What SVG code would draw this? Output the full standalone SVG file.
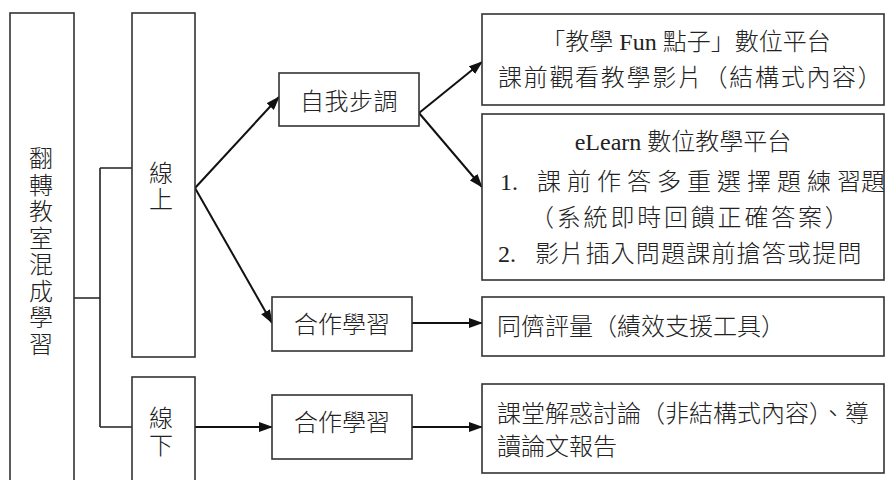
<svg xmlns="http://www.w3.org/2000/svg" width="886" height="480" viewBox="0 0 886 480">
<style>
.box{fill:#fff;stroke:#333;stroke-width:1.6}
.ln{fill:none;stroke:#222;stroke-width:1.6}
.ar{fill:none;stroke:#111;stroke-width:2}
text{font-family:"Liberation Serif","Noto Sans CJK TC",serif;font-size:24px;fill:#222;font-weight:300}
.c{text-anchor:middle}
</style>
<defs>
<marker id="ah" viewBox="0 0 14 10" markerWidth="14" markerHeight="10" refX="13" refY="5" orient="auto" markerUnits="userSpaceOnUse">
<path d="M0,0 L14,5 L0,10 z" fill="#111"/>
</marker>
</defs>
<rect width="886" height="480" fill="#fff"/>
<g id="connectors">
<path class="ln" d="M74,298 H100 M100,168 V427 M100,168 H132 M100,427 H132"/>
<line class="ar" x1="195" y1="188" x2="279" y2="97" marker-end="url(#ah)"/>
<line class="ar" x1="195" y1="188" x2="272" y2="323" marker-end="url(#ah)"/>
<line class="ar" x1="195" y1="427" x2="272" y2="427" marker-end="url(#ah)"/>
<line class="ar" x1="419" y1="113" x2="482" y2="62" marker-end="url(#ah)"/>
<line class="ar" x1="419" y1="113" x2="482" y2="187" marker-end="url(#ah)"/>
<line class="ar" x1="412" y1="323" x2="482" y2="323" marker-end="url(#ah)"/>
<line class="ar" x1="412" y1="427" x2="482" y2="427" marker-end="url(#ah)"/>
</g>
<g id="root">
<rect class="box" x="10" y="13" width="64" height="480"/>
<text class="c"><tspan x="41" y="167">翻</tspan><tspan x="41" y="194">轉</tspan><tspan x="41" y="220">教</tspan><tspan x="41" y="247">室</tspan><tspan x="41" y="273">混</tspan><tspan x="41" y="300">成</tspan><tspan x="41" y="326">學</tspan><tspan x="41" y="353">習</tspan></text>
</g>
<g id="online">
<rect class="box" x="132" y="13" width="63" height="344"/>
<text class="c"><tspan x="161" y="182">線</tspan><tspan x="161" y="208">上</tspan></text>
</g>
<g id="offline">
<rect class="box" x="132" y="377" width="63" height="120"/>
<text class="c"><tspan x="161" y="427">線</tspan><tspan x="161" y="454">下</tspan></text>
</g>
<g id="selfpaced">
<rect class="box" x="279" y="73" width="140" height="53"/>
<text class="c" x="349" y="110" letter-spacing="0.5">自我步調</text>
</g>
<g id="coop1">
<rect class="box" x="272" y="297" width="140" height="54"/>
<text class="c" x="342" y="333">合作學習</text>
</g>
<g id="coop2">
<rect class="box" x="272" y="395" width="140" height="64"/>
<text class="c" x="342" y="431">合作學習</text>
</g>
<g id="funplatform">
<rect class="box" x="482" y="14" width="402" height="91"/>
<text class="c" x="686" y="50">「教學 Fun 點子」數位平台</text>
<text x="498 523.7 549.4 575.1 600.8 626.5 652.2 677.9 703.6 729.3 755 780.7 806.4 832.1 857.8" y="86">課前觀看教學影片（結構式內容）</text>
</g>
<g id="elearn">
<rect class="box" x="482" y="114" width="402" height="166"/>
<text class="c" x="683" y="150">eLearn 數位教學平台</text>
<text x="500" y="190">1.</text>
<text x="537 567 597 627 657 687 717 747 777 807 837" y="190">課前作答多重選擇題練習題</text>
<text x="530 556.8 583.6 610.4 637.2 664 690.8 717.6 744.4 771.2 798 824.8" y="226">（系統即時回饋正確答案）</text>
<text x="498" y="262">2.</text>
<text x="535 560.2 585.4 610.6 635.8 661 686.2 711.4 736.6 761.8 787 812.2 837.4" y="262">影片插入問題課前搶答或提問</text>
</g>
<g id="peer">
<rect class="box" x="482" y="297" width="402" height="59"/>
<text x="497" y="335">同儕評量（績效支援工具）</text>
</g>
<g id="discuss">
<rect class="box" x="482" y="384" width="402" height="89"/>
<text x="497" y="422">課堂解惑討論（非結構式內容）、導</text>
<text x="497" y="455">讀論文報告</text>
</g>
</svg>
